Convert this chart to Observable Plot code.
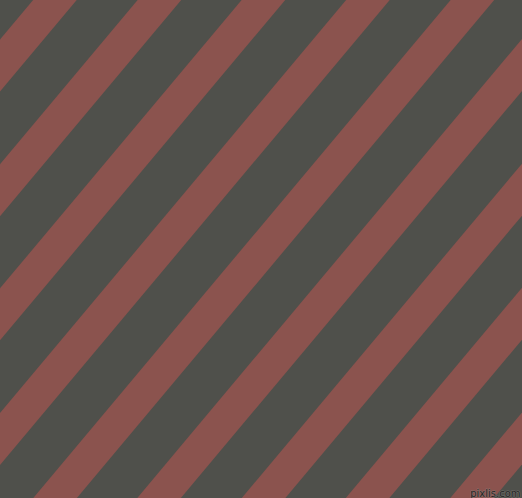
<!DOCTYPE html>
<html><head><meta charset="utf-8">
<script src="https://cdn.jsdelivr.net/npm/d3@7"></script>
<script src="https://cdn.jsdelivr.net/npm/@observablehq/plot@0.6"></script>
<style>html,body{margin:0;padding:0;background:#4f504b;overflow:hidden}</style>
</head><body>
<div id="chart"></div>
<script>
// stripe centre positions where each stripe crosses the top edge (px)
const stripeTopX = [-50, 54, 158.5, 262.5, 367, 471.5, 575.5, 680, 784, 888.5];
// horizontal shift of a stripe per unit of downward distance
const stripeSlope = 0.838;
const stripeYs = [-40, 540];
const background = "#4f504b";
const stripeColor = "#8b534e";

const links = stripeTopX.map(c => ({
  x1: c - stripeSlope * stripeYs[0], y1: stripeYs[0],
  x2: c - stripeSlope * stripeYs[1], y2: stripeYs[1]
}));

const plot = Plot.plot({
  width: 522, height: 498,
  margin: 0,
  x: {domain: [0, 522], range: [0, 522], axis: null},
  y: {domain: [0, 498], range: [0, 498], axis: null},
  style: {background: background, display: "block"},
  marks: [
    Plot.link(links, {x1: "x1", y1: "y1", x2: "x2", y2: "y2", stroke: stripeColor, strokeWidth: 33.4, clip: true}),
    Plot.text(["pixlis.com"], {x: [520], y: [496], text: d => d, textAnchor: "end", lineAnchor: "bottom", fontSize: 10, fontFamily: "DejaVu Sans", fill: "#262626", stroke: "#8a8a86", strokeWidth: 1, paintOrder: "stroke", strokeOpacity: 0.6})
  ]
});
document.getElementById("chart").appendChild(plot);
</script>
</body></html>
